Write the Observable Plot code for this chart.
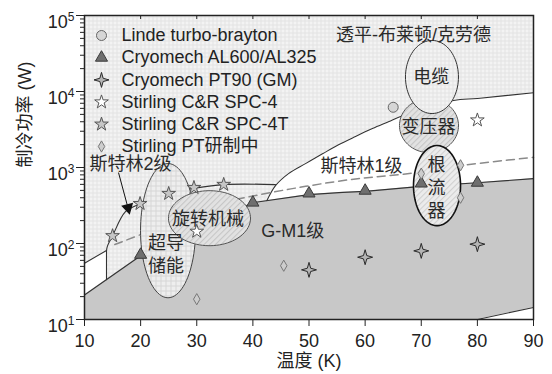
<!DOCTYPE html>
<html><head><meta charset="utf-8">
<script src="https://cdn.jsdelivr.net/npm/d3@7"></script>
<script src="https://cdn.jsdelivr.net/npm/@observablehq/plot@0.6"></script>
<style>body{margin:0;background:#fff;} #chart svg{display:block}</style>
</head><body>
<svg width="0" height="0" style="position:absolute">
<defs>
<pattern id="grid" width="4" height="4" patternUnits="userSpaceOnUse">
<rect width="4" height="4" fill="#f3f3f3"/>
<path d="M0 0.5H4M0.5 0V4" stroke="#e3e3e3" stroke-width="1"/>
</pattern>
<pattern id="grid2" width="5" height="5" patternUnits="userSpaceOnUse">
<rect width="5" height="5" fill="#eeeeee"/>
<path d="M0 0.5H5M0.5 0V5" stroke="#d6d6d6" stroke-width="1"/>
</pattern>
<pattern id="hatch" width="4" height="4" patternUnits="userSpaceOnUse" patternTransform="rotate(45)">
<rect width="4" height="4" fill="#e2e2e2"/>
<path d="M0.5 0V4" stroke="#c6c6c6" stroke-width="1.2"/>
</pattern>
<pattern id="hatch2" width="4" height="4" patternUnits="userSpaceOnUse" patternTransform="rotate(45)">
<rect width="4" height="4" fill="#ececec"/>
<path d="M0.5 0V4" stroke="#d0d0d0" stroke-width="1.2"/>
</pattern>
</defs></svg>
<div id="chart"></div>
<script>
// ---- data (temperature K, cooling power W) ----
const lindeT = [65];
const lindeW = [6200];
const alT = [20, 40, 50, 60, 70, 80];
const alW = [71, 345, 455, 495, 615, 630];
const pt90T = [50, 60, 70, 80];
const pt90W = [45, 66, 80, 98];
const spc4T = [30, 80];
const spc4W = [144, 4200];
const spc4tT = [15, 19.9, 25, 29.5, 34.8];
const spc4tW = [126, 334, 453, 543, 596];
const ptDevT = [30, 45.5, 70, 77, 77];
const ptDevW = [18.5, 51, 830, 1070, 400];

// region boundaries
const gmT = [10, 20, 40, 50, 56, 60, 70, 80, 90];
const gmHighW = [21, 69, 345, 440, 470, 485, 565, 630, 714];
const gmLowW = [10, 10, 10, 10, 10, 10, 10, 10, 14.4];
const s1T = [42.5, 44.03, 46.35, 49.38, 52.4, 55.26, 58.29, 61.3, 64.16, 66.66, 75.75, 80, 90];
const s1W = [367, 578, 832, 1125, 1513, 1990, 2560, 3250, 4000, 4800, 7600, 8100, 9650];
const sliverT = [10, 13.92];
const sliverW = [55, 81];
const s2VertT = [13.92, 13.92];
const s2VertW = [33.5, 81];
const s2T = [13.92, 14.1, 15, 17.3, 19.98, 24.1, 28.9, 34.8, 44.03];
const s2W = [81, 93, 126, 262, 334, 453, 525, 596, 596];
const dashT = [15.4, 20.93, 30.7, 40.47, 49.4, 58.3, 67.2, 77, 90];
const dashW = [97, 140, 295, 427, 565, 708, 824, 1060, 1360];
const arrowT = [16.06, 17.75];
const arrowW = [857, 295];

const xTicks = [10, 20, 30, 40, 50, 60, 70, 80, 90];
const yMajor = [10, 100, 1000, 10000, 100000];
const yMinor = [];
for (const dec of [10, 100, 1000, 10000]) for (let k = 2; k <= 9; k++) yMinor.push(dec * k);

const legendLabels = ["Linde turbo-brayton", "Cryomech AL600/AL325", "Cryomech PT90 (GM)",
  "Stirling C&R SPC-4", "Stirling C&R SPC-4T", "Stirling PT研制中"];

// application ellipses: centre T, centre log10(W), radius T, radius in decades
const ellipses = [
  {cx: 24.88, cl: 2.169, rx: 4.9, rl: 0.883, fill: "url(#grid2)", stroke: "#444", sw: 1},
  {cx: 32.27, cl: 2.333, rx: 7.31, rl: 0.362, fill: "url(#hatch)", stroke: "#555", sw: 1},
  {cx: 71.38, cl: 3.552, rx: 5.26, rl: 0.356, fill: "url(#hatch)", stroke: "#555", sw: 1},
  {cx: 71.91, cl: 4.191, rx: 4.72, rl: 0.481, fill: "url(#grid)", stroke: "#333", sw: 1},
  {cx: 72.81, cl: 2.762, rx: 4.19, rl: 0.527, fill: "url(#hatch2)", stroke: "#111", sw: 1.6}
];

// region labels
const labels = [
  {t: "透平-布莱顿/克劳德", x: 68.6, y: 58000},
  {t: "电缆", x: 71.8, y: 16200},
  {t: "变压器", x: 71.3, y: 3570},
  {t: "根\n流\n器", x: 72.7, y: 560},
  {t: "旋转机械", x: 32.0, y: 219},
  {t: "超导\n储能", x: 24.5, y: 74.5},
  {t: "G-M1级", x: 47.1, y: 152},
  {t: "斯特林1级", x: 59.35, y: 1100},
  {t: "斯特林2级", x: 18.2, y: 1160}
];

const star4 = {draw(ctx, size) {
  const R = Math.sqrt(size / Math.PI), k = R * 0.22;
  ctx.moveTo(0, -R); ctx.lineTo(k, -k); ctx.lineTo(R, 0); ctx.lineTo(k, k);
  ctx.lineTo(0, R); ctx.lineTo(-k, k); ctx.lineTo(-R, 0); ctx.lineTo(-k, -k); ctx.closePath();
}};

const seriesT = [lindeT, alT, pt90T, spc4T, spc4tT, ptDevT];
const seriesW = [lindeW, alW, pt90W, spc4W, spc4tW, ptDevW];
const styles = [
  {symbol: "circle", r: 5, fill: "#d6d6d6", stroke: "#666"},
  {symbol: "triangle", r: 4.5, fill: "#6f6f6f", stroke: "#3a3a3a"},
  {symbol: star4, r: 7.5, fill: "#b5b5b5", stroke: "#2a2a2a"},
  {symbol: "star", r: 4.3, fill: "#ffffff", stroke: "#555"},
  {symbol: "star", r: 4.3, fill: "#c6c6c6", stroke: "#555"},
  {symbol: "diamond", r: 3.4, fill: "#cdcdcd", stroke: "#777"}
];

const zip = (xs, ys) => xs.map((x, i) => ({x, y: ys[i]}));
const gm = gmT.map((x, i) => ({x, lo: gmLowW[i], hi: gmHighW[i]}));
const ellipsePoints = e => d3.range(0, 361, 4).map(a => ({
  x: e.cx + e.rx * Math.cos(a * Math.PI / 180),
  y: Math.pow(10, e.cl + e.rl * Math.sin(a * Math.PI / 180))
}));

const marks = [
  Plot.frame({fill: "url(#grid)"}),
  Plot.areaY(zip(s1T, s1W), {x: "x", y1: 10, y2: "y", curve: "catmull-rom", fill: "white"}),
  Plot.areaY(zip(sliverT, sliverW), {x: "x", y1: 10, y2: "y", fill: "white"}),
  Plot.areaY(gm, {x: "x", y1: "lo", y2: "hi", fill: "#c8c8c8"}),
  Plot.line(gm, {x: "x", y: "hi", stroke: "#333", strokeWidth: 1.1}),
  Plot.line(gm.slice(-2), {x: "x", y: "lo", stroke: "#333", strokeWidth: 1.1}),
  Plot.line(zip(s1T, s1W), {x: "x", y: "y", curve: "catmull-rom", stroke: "#333", strokeWidth: 1.1}),
  Plot.line(zip(sliverT, sliverW), {x: "x", y: "y", stroke: "#333", strokeWidth: 1.1}),
  Plot.line(zip(s2VertT, s2VertW), {x: "x", y: "y", stroke: "#333", strokeWidth: 1.1}),
  Plot.line(zip(s2T, s2W), {x: "x", y: "y", curve: "catmull-rom", stroke: "#333", strokeWidth: 1.1}),
  Plot.line(zip(dashT, dashW), {x: "x", y: "y", curve: "catmull-rom", stroke: "#8a8a8a", strokeWidth: 1.5, strokeDasharray: "8,5"})
];
for (const e of ellipses) {
  marks.push(Plot.line(ellipsePoints(e), {x: "x", y: "y", fill: e.fill, stroke: e.stroke, strokeWidth: e.sw}));
}
seriesT.forEach((ts, i) => {
  const s = styles[i];
  marks.push(Plot.dot(zip(ts, seriesW[i]), {x: "x", y: "y", symbol: s.symbol, r: s.r, fill: s.fill, stroke: s.stroke, strokeWidth: 1}));
});
// arrow pointing at the 2-stage Stirling curve
marks.push(Plot.link([0], {x1: arrowT[0], y1: arrowW[0], x2: arrowT[1], y2: arrowW[1], stroke: "#111", strokeWidth: 1}));
marks.push(Plot.dot([0], {x: arrowT[1], y: arrowW[1], symbol: "triangle", r: 3.6, fill: "#111", stroke: "#111", rotate: 166}));
// labels
marks.push(Plot.text(labels, {x: "x", y: "y", text: "t", fontSize: 18, fill: "#2a2a2a", lineHeight: 1.28, lineAnchor: "middle"}));
// legend
legendLabels.forEach((lab, i) => {
  const s = styles[i], dy = 20 + 22.2 * i;
  marks.push(Plot.dot([0], {frameAnchor: "top-left", dx: 17, dy, symbol: s.symbol, r: s.r, fill: s.fill, stroke: s.stroke, strokeWidth: 1}));
  marks.push(Plot.text([lab], {frameAnchor: "top-left", dx: 37, dy, text: d => d, textAnchor: "start", lineAnchor: "middle", fontSize: 18, fill: "#222"}));
});
// top inner ticks
marks.push(Plot.tickX(xTicks.slice(1, -1), {x: d => d, insetBottom: 300, stroke: "#222", strokeWidth: 1}));
// frame & axes
marks.push(Plot.frame({stroke: "#222", strokeWidth: 1.5}));
marks.push(Plot.axisX({ticks: xTicks, tickSize: 7, tickPadding: 8, fontSize: 18, label: null, tickFormat: d => String(d), stroke: "#222"}));
marks.push(Plot.axisY({ticks: yMinor, tickSize: 4, tickFormat: () => "", label: null, stroke: "#222"}));
marks.push(Plot.axisY({ticks: yMajor, tickSize: 8, tickPadding: 2, fontSize: 18, label: null, stroke: "#222",
  tickFormat: d => String(Math.round(Math.log10(d)))}));
marks.push(Plot.text(["温度 (K)"], {frameAnchor: "bottom", dy: 42, text: d => d, fontSize: 18, fill: "#222", lineAnchor: "middle"}));
marks.push(Plot.text(["制冷功率 (W)"], {frameAnchor: "left", dx: -59, text: d => d, fontSize: 18, fill: "#222", rotate: -90, lineAnchor: "middle"}));

const svg = Plot.plot({
  width: 552, height: 374,
  marginLeft: 84, marginRight: 19, marginTop: 15, marginBottom: 55,
  style: {fontFamily: "'Liberation Sans', Arial, 'Noto Sans CJK SC', sans-serif", fontSize: "18px", color: "#222", background: "white"},
  x: {domain: [10, 90]},
  y: {type: "log", domain: [10, 100000]},
  marks
});
d3.select(svg).selectAll('g[aria-label="y-axis tick label"] text').each(function () {
  const t = d3.select(this); const e = t.text();
  if (!e) return;
  t.text(null);
  t.append("tspan").attr("dy", "0.4em").text("10");
  t.append("tspan").attr("dy", "-0.6em").attr("font-size", "12px").text(e);
});
document.getElementById("chart").appendChild(svg);
</script>
</body></html>
